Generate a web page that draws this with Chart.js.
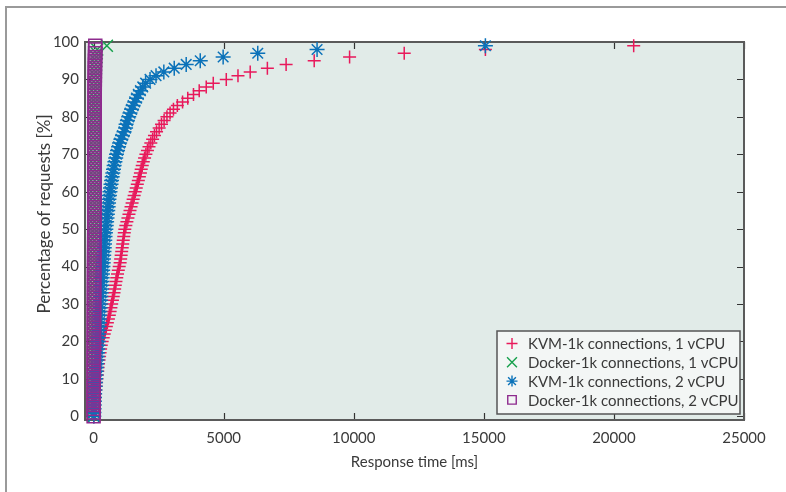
<!DOCTYPE html>
<html><head><meta charset="utf-8">
<script src="https://cdn.jsdelivr.net/npm/chart.js@4.4.1/dist/chart.umd.min.js"></script>
<style>html,body{margin:0;padding:0;background:#fff;}canvas{display:block;}</style>
</head><body>
<canvas id="c" width="786" height="492"></canvas>
<script>
// Percentile (y) for each point
const percentiles = [
  0,1,2,3,4,5,6,7,8,9,
  10,11,12,13,14,15,16,17,18,19,
  20,21,22,23,24,25,26,27,28,29,
  30,31,32,33,34,35,36,37,38,39,
  40,41,42,43,44,45,46,47,48,49,
  50,51,52,53,54,55,56,57,58,59,
  60,61,62,63,64,65,66,67,68,69,
  70,71,72,73,74,75,76,77,78,79,
  80,81,82,83,84,85,86,87,88,89,
  90,91,92,93,94,95,96,97,98,99
];
// Response times (ms)
const kvm1cpu = [
  10,20,30,40,50,60,70,85,100,115,
  130,145,160,175,190,210,230,250,270,295,
  330,370,410,450,490,530,570,605,635,665,
  695,725,755,785,810,835,860,890,920,950,
  985,1020,1040,1060,1080,1100,1120,1140,1160,1180,
  1200,1240,1280,1320,1360,1400,1440,1480,1520,1560,
  1600,1640,1680,1720,1760,1800,1830,1870,1910,1960,
  2010,2070,2130,2200,2270,2340,2420,2520,2610,2710,
  2820,2940,3070,3220,3420,3620,3840,4060,4330,4600,
  5100,5550,6020,6680,7400,8480,9840,11940,15060,20760
];
const docker1cpu = [
  2,3,4,5,5,6,7,8,8,9,
  10,10,11,12,12,13,14,14,15,16,
  16,17,18,18,19,20,20,21,22,22,
  23,24,24,25,26,26,27,28,28,29,
  30,30,31,32,32,33,34,34,35,36,
  36,37,38,38,39,40,40,41,42,42,
  43,44,44,45,46,46,47,48,48,49,
  50,50,51,52,52,53,54,55,56,57,
  58,59,60,62,64,66,68,70,72,75,
  78,81,85,90,95,100,110,120,140,510
];
const kvm2cpu = [
  10,15,20,25,30,35,40,50,60,70,
  80,90,100,110,120,130,140,150,160,170,
  180,190,200,210,215,220,225,230,240,250,
  260,270,280,290,300,310,320,330,340,350,
  360,370,380,390,400,410,420,430,440,455,
  470,485,500,515,530,545,560,575,590,610,
  630,650,670,690,715,740,765,790,820,850,
  880,920,960,1000,1050,1110,1170,1230,1250,1300,
  1350,1400,1460,1520,1580,1650,1720,1800,1890,2000,
  2170,2400,2700,3100,3560,4100,4980,6310,8590,15060
];
const docker2cpu = [
  1,1,2,2,3,3,4,4,5,5,
  6,6,7,7,8,8,9,9,10,10,
  11,11,12,12,13,13,14,14,15,15,
  16,16,17,17,18,18,19,19,20,20,
  21,21,22,22,23,23,24,24,25,25,
  26,26,27,27,28,28,29,29,30,30,
  31,31,32,32,33,33,34,34,35,35,
  36,36,37,37,38,38,39,39,40,40,
  41,41,42,42,43,43,44,44,45,46,
  47,48,49,50,52,54,56,58,60,65
];
const seriesLabels = [
  'KVM-1k connections, 1 vCPU',
  'Docker-1k connections, 1 vCPU',
  'KVM-1k connections, 2 vCPU',
  'Docker-1k connections, 2 vCPU'
];
const xTickValues = [0, 5000, 10000, 15000, 20000, 25000];
const yTickValues = [0, 10, 20, 30, 40, 50, 60, 70, 80, 90, 100];
const xTitle = 'Response time [ms]';
const yTitle = 'Percentage of requests [%]';

const FONT = 'Lato, "Liberation Sans", sans-serif';
const TEXT = '#3a3a3a';
const colors = ['#e8195b', '#16a04c', '#0b72b9', '#8e2b8e'];
const styles = ['cross', 'crossRot', 'star', 'rect'];
const radii = [6.5, 8.5, 7.5, 9.2];
const seriesData = [kvm1cpu, docker1cpu, kvm2cpu, docker2cpu];

function toPoints(xs) { return xs.map((x, i) => ({ x: x, y: percentiles[i] })); }

function drawSym(ctx, style, x, y, r) {
  ctx.beginPath();
  if (style === 'cross' || style === 'star') {
    ctx.moveTo(x - r, y); ctx.lineTo(x + r, y);
    ctx.moveTo(x, y - r); ctx.lineTo(x, y + r);
  }
  if (style === 'crossRot' || style === 'star') {
    const d = r * Math.SQRT1_2;
    ctx.moveTo(x - d, y - d); ctx.lineTo(x + d, y + d);
    ctx.moveTo(x - d, y + d); ctx.lineTo(x + d, y - d);
  }
  if (style === 'rect') {
    const s = r * Math.SQRT1_2;
    ctx.rect(x - s, y - s, 2 * s, 2 * s);
  }
  ctx.stroke();
}

const framePlugin = {
  id: 'frame',
  beforeDraw(chart) {
    const ctx = chart.ctx, a = chart.chartArea;
    ctx.save();
    ctx.fillStyle = '#ffffff';
    ctx.fillRect(0, 0, chart.width, chart.height);
    ctx.strokeStyle = '#9a9a9a';
    ctx.lineWidth = 2;
    ctx.beginPath();
    ctx.moveTo(6, chart.height + 2); ctx.lineTo(6, 7); ctx.lineTo(chart.width + 2, 7);
    ctx.stroke();
    ctx.fillStyle = '#e1ebe8';
    ctx.fillRect(a.left, a.top, a.right - a.left, a.bottom - a.top);
    ctx.restore();
  },
  beforeDatasetsDraw(chart) {
    const ctx = chart.ctx, a = chart.chartArea;
    const xs = chart.scales.x, ys = chart.scales.y;
    ctx.save();
    ctx.strokeStyle = '#333';
    ctx.lineWidth = 1.2;
    const tl = 7;
    ctx.beginPath();
    xTickValues.forEach(v => {
      const px = Math.round(xs.getPixelForValue(v)) + 0.5;
      ctx.moveTo(px, a.bottom); ctx.lineTo(px, a.bottom - tl);
      ctx.moveTo(px, a.top); ctx.lineTo(px, a.top + tl);
    });
    yTickValues.forEach(v => {
      const py = Math.round(ys.getPixelForValue(v)) + 0.5;
      ctx.moveTo(a.left, py); ctx.lineTo(a.left + tl, py);
      ctx.moveTo(a.right, py); ctx.lineTo(a.right - tl, py);
    });
    ctx.stroke();
    ctx.strokeStyle = '#5a5a5a';
    ctx.lineWidth = 2;
    ctx.strokeRect(a.left, a.top, a.right - a.left, a.bottom - a.top);
    // y axis title
    ctx.fillStyle = TEXT;
    ctx.font = '17px ' + FONT;
    ctx.textAlign = 'center';
    ctx.textBaseline = 'middle';
    ctx.translate(45, 214);
    ctx.rotate(-Math.PI / 2);
    ctx.fillText(yTitle, 0, 0);
    ctx.restore();
  },
  afterDraw(chart) {
    const ctx = chart.ctx, a = chart.chartArea;
    const bw = 243, bh = 83;
    const bx = a.right - 4 - bw, by = a.bottom - 6 - bh;
    ctx.save();
    ctx.fillStyle = '#f3f6f5';
    ctx.fillRect(bx, by, bw, bh);
    ctx.strokeStyle = '#555';
    ctx.lineWidth = 1.5;
    ctx.strokeRect(bx, by, bw, bh);
    ctx.font = '15px ' + FONT;
    ctx.textAlign = 'left';
    ctx.textBaseline = 'middle';
    seriesLabels.forEach((lab, i) => {
      const cy = by + 12.5 + i * 18.8;
      ctx.strokeStyle = colors[i];
      ctx.lineWidth = 1.4;
      drawSym(ctx, styles[i], bx + 15, cy, i === 3 ? 6 : (i === 1 ? 7 : 5.5));
      ctx.fillStyle = TEXT;
      ctx.fillText(lab, bx + 31, cy + 1);
    });
    ctx.restore();
  }
};

const datasets = seriesData.map((arr, i) => ({
  label: seriesLabels[i],
  data: toPoints(arr),
  pointStyle: styles[i],
  pointRadius: radii[i],
  pointHoverRadius: radii[i],
  borderColor: colors[i],
  backgroundColor: 'rgba(0,0,0,0)',
  pointBorderWidth: 1.5,
  showLine: false,
  clip: false,
  order: 4 - i
}));

new Chart(document.getElementById('c'), {
  type: 'scatter',
  data: { datasets: datasets },
  options: {
    responsive: false,
    animation: false,
    events: [],
    layout: { padding: { left: 0, top: 42, right: 42, bottom: 0 } },
    plugins: { legend: { display: false }, tooltip: { enabled: false } },
    scales: {
      x: {
        type: 'linear',
        min: -330, max: 25000,
        grid: { display: false, drawTicks: false },
        border: { display: false },
        afterBuildTicks: s => { s.ticks = xTickValues.map(v => ({ value: v })); },
        afterFit: s => { s.height = 72; },
        ticks: { color: TEXT, font: { family: FONT, size: 15 }, padding: 9, maxRotation: 0, autoSkip: false, callback: v => String(v) },
        title: { display: true, text: xTitle, color: TEXT, font: { family: FONT, size: 15 }, padding: { top: 0, bottom: 21 } }
      },
      y: {
        type: 'linear',
        min: -1, max: 100,
        grid: { display: false, drawTicks: false },
        border: { display: false },
        afterBuildTicks: s => { s.ticks = yTickValues.map(v => ({ value: v })); },
        afterFit: s => { s.width = 85; },
        ticks: { color: TEXT, font: { family: FONT, size: 15 }, padding: 6, autoSkip: false, callback: v => String(v) },
        title: { display: false }
      }
    }
  },
  plugins: [framePlugin]
});
</script>
</body></html>
